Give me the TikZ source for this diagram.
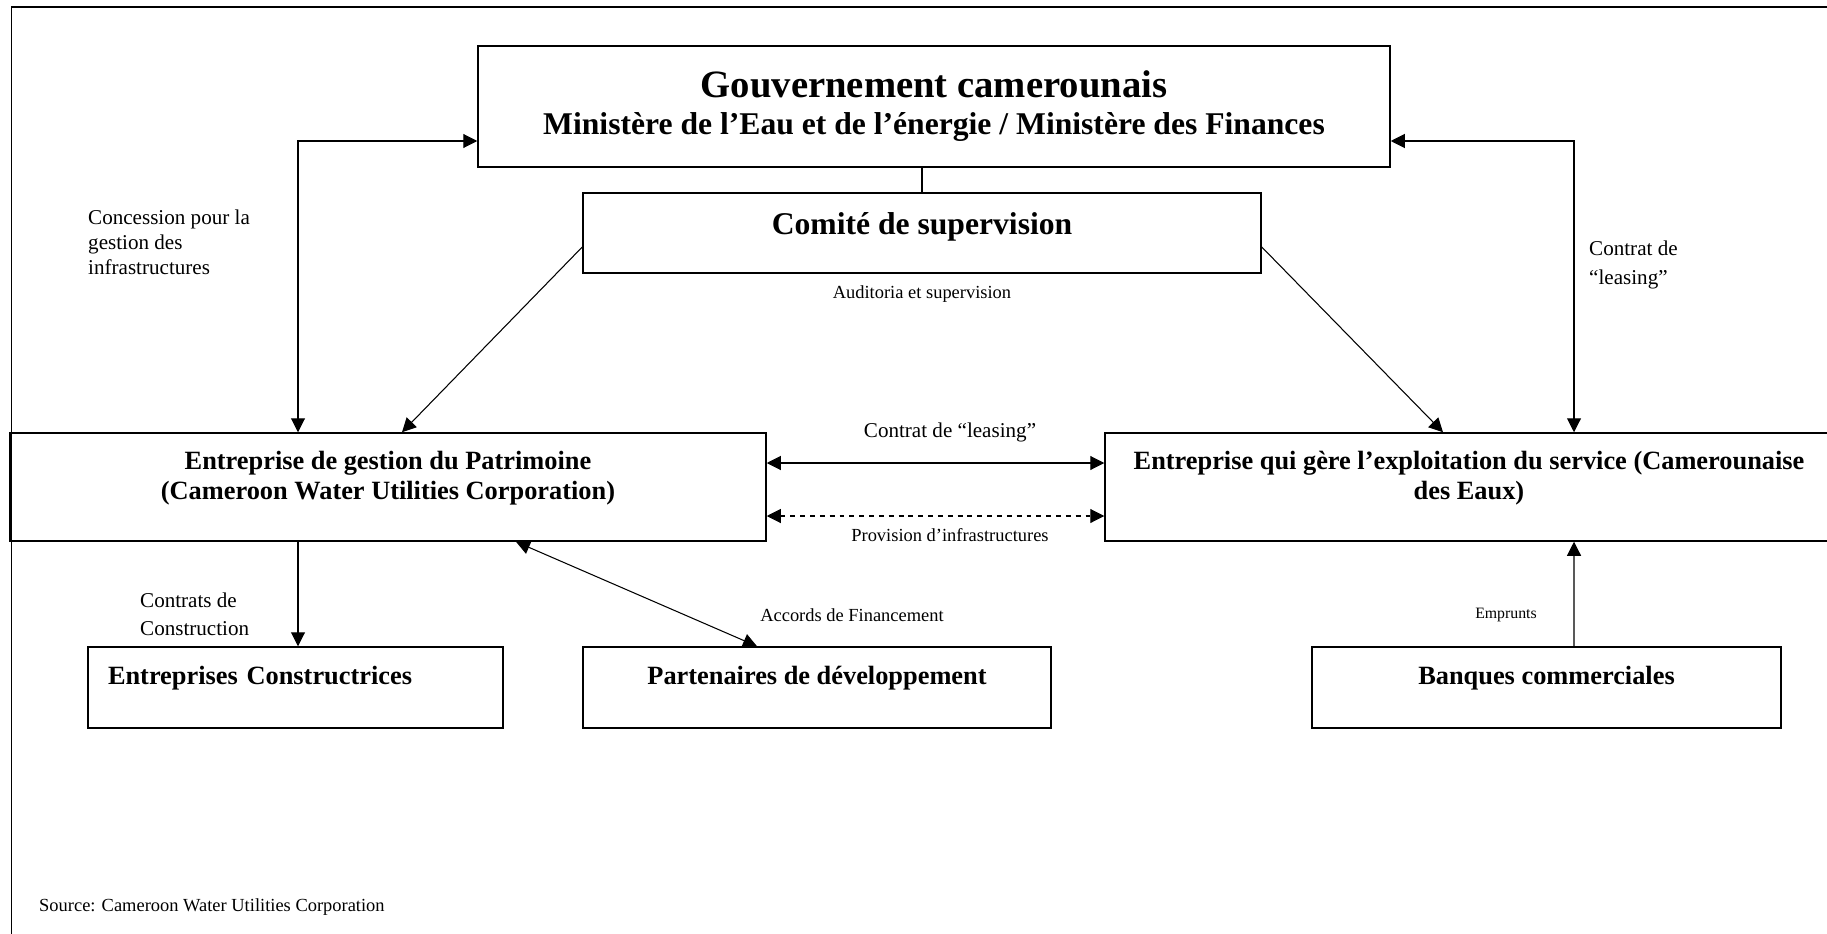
\documentclass[tikz,border=0pt]{standalone}
\usepackage{fontspec}
\setmainfont{Liberation Serif}
\usetikzlibrary{arrows.meta}
\begin{document}
\begin{tikzpicture}[
  boite/.style={draw, line width=0.85pt, inner xsep=0.2cm, inner ysep=0.37cm, text height=0.37cm, align=center, font=\bfseries\fontsize{15}{17}\selectfont},
  fleche/.style={line width=0.6pt, -{Triangle[length=0.28cm,width=0.28cm]}},
  dfleche/.style={line width=0.6pt, {Triangle[length=0.28cm,width=0.28cm]}-{Triangle[length=0.28cm,width=0.28cm]}},
  etiq/.style={font=\fontsize{12}{14.2}\selectfont, align=left},
  petit/.style={font=\fontsize{10.5}{12.5}\selectfont}
]
\useasboundingbox (0,0) rectangle (36.54,-18.68);
\clip (0,0) rectangle (36.54,-18.68);
\draw [line width=1pt] (0.23,-18.9) -- (0.23,-0.14) -- (36.8,-0.14);
\node [boite, minimum width=18.24cm, text height=1.39cm, text depth=0.29cm, font=\bfseries\fontsize{18}{21}\selectfont] (gouv) at (18.68,-2.13) {{\fontsize{22}{26}\selectfont Gouvernement camerounais}\\Ministère de l’Eau et de l’énergie / Ministère des Finances};
\node [boite, minimum width=13.56cm, text height=0.46cm, text depth=0.4cm, font=\bfseries\fontsize{18}{21}\selectfont] (comite) at (18.44,-4.66) {Comité de supervision};
\node [boite, minimum width=15.12cm, text height=0.95cm, text depth=0.47cm] (patr) at (7.76,-9.74) {Entreprise de gestion du Patrimoine\\(Cameroon Water Utilities Corporation)};
\node [boite, minimum width=14.56cm, text height=0.95cm, text depth=0.47cm] (serv) at (29.38,-9.74) {Entreprise qui gère l’exploitation du service (Camerounaise\\des Eaux)};
\node [boite, text width=7.5cm, align=left, inner xsep=0.4cm, text depth=0.51cm] (constr) at (5.91,-13.75) {Entreprises Constructrices};
\node [boite, minimum width=9.36cm, text depth=0.51cm] (part) at (16.34,-13.75) {Partenaires de développement};
\node [boite, minimum width=9.38cm, text depth=0.51cm] (banq) at (30.93,-13.75) {Banques commerciales};
\draw [dfleche] ([xshift=-1.8cm]patr.north) |- ([yshift=-0.69cm]gouv.west);
\draw [dfleche] ([xshift=2.1cm]serv.north) |- ([yshift=-0.69cm]gouv.east);
\draw [line width=0.6pt] (comite.north |- gouv.south) -- (comite.north);
\draw [fleche] ([yshift=-0.28cm]comite.west) -- ([xshift=0.28cm]patr.north);
\draw [fleche] ([yshift=-0.28cm]comite.east) -- ([xshift=-0.52cm]serv.north);
\draw [dfleche] ([yshift=0.48cm]patr.east) -- ([yshift=0.48cm]serv.west);
\draw [dfleche, dash pattern=on 2.8pt off 2.8pt] ([yshift=-0.58cm]patr.east) -- ([yshift=-0.58cm]serv.west);
\draw [fleche] ([xshift=-1.8cm]patr.south) -- ([xshift=-1.8cm]patr.south |- constr.north);
\draw [dfleche] ([xshift=2.56cm]patr.south) -- ([xshift=-1.2cm]part.north);
\draw [fleche] ([xshift=0.55cm]banq.north) -- ([xshift=2.1cm]serv.south);
\node [etiq, anchor=west] (concession) at (1.64,-4.84) {Concession pour la\\gestion des\\infrastructures};
\node [etiq, anchor=west, font=\fontsize{12}{16.5}\selectfont] (leasing) at (31.66,-5.3) {Contrat de\\“leasing”};
\node [etiq] (contrat) at (19.0,-8.64) {Contrat de “leasing”};
\node [petit] (provision) at (19.0,-10.7) {Provision d’infrastructures};
\node [petit] (auditoria) at (18.44,-5.88) {Auditoria et supervision};
\node [etiq, anchor=west, font=\fontsize{12}{16}\selectfont] (construction) at (2.68,-12.28) {Contrats de\\Construction};
\node [petit] (accords) at (17.04,-12.3) {Accords de Financement};
\node [font=\fontsize{9}{11}\selectfont] (emprunts) at (30.12,-12.3) {Emprunts};
\node [petit, anchor=west] (source) at (0.66,-18.14) {Source: Cameroon Water Utilities Corporation};
\end{tikzpicture}
\end{document}
